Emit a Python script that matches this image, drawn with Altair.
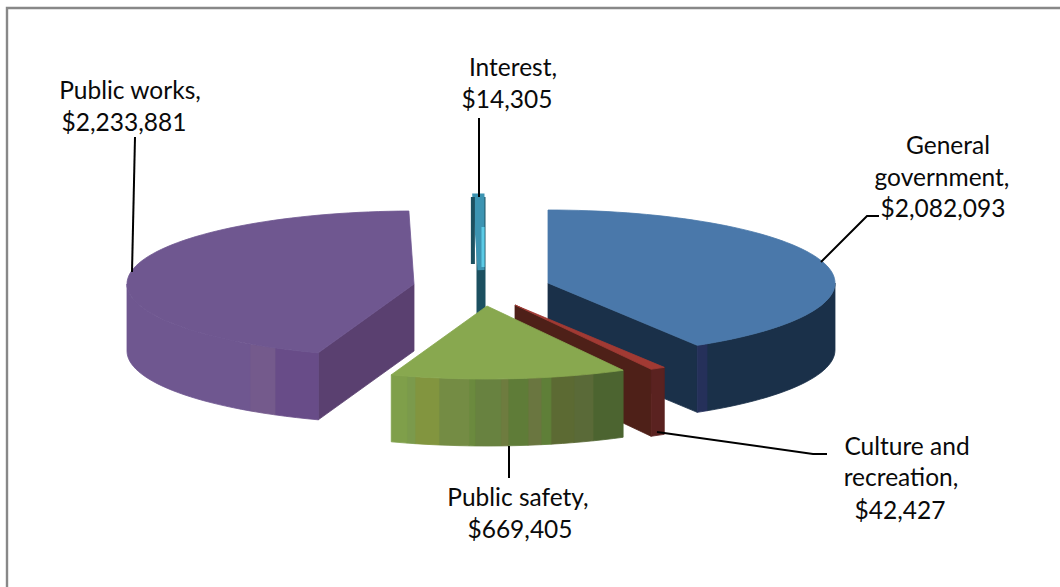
import math
import altair as alt
import pandas as pd

# Expenses by function
names = ["General government", "Culture and recreation", "Public safety", "Public works", "Interest"]
amounts = [2082093, 42427, 669405, 2233881, 14305]

# Slice placement on the canvas: exploded centre of each wedge
centres = {
    "General government": (548, 283),
    "Culture and recreation": (515, 305),
    "Public safety": (487, 306),
    "Public works": (414, 284),
    "Interest": (481, 270),
}
RX, RY, DEPTH = 287, 73, 67

top_colors = {
    "General government": "#4a78aa",
    "Culture and recreation": "#a13a33",
    "Public safety": "#88a84f",
    "Public works": "#6f5790",
    "Interest": "#3c94b2",
}
cut_colors = {
    "General government": "#1a3049",
    "Culture and recreation": "#4e2018",
    "Public works": "#5a4070",
}
# Shaded vertical bands along each rim: (right edge on the canvas, colour), right to left
rim_bands = {
    "General government": [(840, "#1a3049"), (707, "#25305a")],
    "Culture and recreation": [(670, "#5a2220")],
    "Public safety": [
        (626, "#4c6430"), (593, "#5a6a38"), (574, "#5c6a33"), (551, "#5f7f38"),
        (541, "#6a7640"), (528, "#5f7c38"), (508, "#6e7c3f"), (501, "#688240"),
        (475, "#6b8a3e"), (469, "#748c44"), (439, "#82953f"), (415, "#7b9a4c"),
        (407, "#7f9f4a"),
    ],
    "Public works": [(320, "#684c88"), (275, "#745a8c"), (250, "#6f5790")],
}

# Label lines and their centre positions
label_lines = {
    "General government": ["General", "government,"],
    "Culture and recreation": ["Culture and", "recreation,"],
    "Public safety": ["Public safety,"],
    "Public works": ["Public works,"],
    "Interest": ["Interest,"],
}
label_xy = {
    "General government": [(948, 147), (942, 179), (943, 210)],
    "Culture and recreation": [(907, 448), (901, 479), (900, 512)],
    "Public safety": [(518, 499), (520, 531)],
    "Public works": [(130, 92), (124, 124)],
    "Interest": [(513, 69), (507, 101)],
}
leaders = {
    "General government": [(821, 262), (867, 216), (879, 216)],
    "Culture and recreation": [(657, 432), (813, 454), (827, 454)],
    "Public safety": [(509, 446), (509, 478)],
    "Public works": [(135, 137), (132, 272)],
    "Interest": [(479, 118), (479, 197)],
}
frame = [(7, 587), (7, 8), (1060, 8)]

total = sum(amounts)
spans = {}
start = 0.0
for name, amount in zip(names, amounts):
    end = start + amount / total * 360
    spans[name] = (start, end)
    start = end


def rim(name, angle):
    cx, cy = centres[name]
    t = math.radians(angle)
    return cx + RX * math.sin(t), cy - RY * math.cos(t)


def arc(name, a0, a1, step=2.0):
    n = max(2, int(abs(a1 - a0) / step) + 1)
    return [rim(name, a0 + (a1 - a0) * i / (n - 1)) for i in range(n)]


def front_angle(name, x):
    # Angle on the front half of the rim that sits under canvas position x
    s = max(-1.0, min(1.0, (x - centres[name][0]) / RX))
    return 180 - math.degrees(math.asin(s))


polys = []


def add_poly(points, fill, stroke=None, width=0.8):
    pid = f"p{len(polys):03d}"
    for i, (x, y) in enumerate(points):
        polys.append(dict(poly=pid, i=i, x=x, y=y, fill=fill, stroke=stroke or fill, sw=width))


def drop(points):
    return [(x, y + DEPTH) for x, y in points]


def draw_slice(name, cut_angle=None):
    a0, a1 = spans[name]
    c = centres[name]
    if cut_angle is not None:
        edge = [c, rim(name, cut_angle)]
        add_poly(edge + drop(edge)[::-1], cut_colors[name])
    lo, hi = max(a0, 90), min(a1, 270)
    bands = rim_bands[name]
    for k, (right, colour) in enumerate(bands):
        b0 = max(lo, front_angle(name, right))
        b1 = min(hi, front_angle(name, bands[k + 1][0])) if k + 1 < len(bands) else hi
        seg = arc(name, b0, b1)
        add_poly(seg + drop(seg)[::-1], colour)
    add_poly([c] + arc(name, a0, a1), top_colors[name])


# Back-to-front paint order
draw_slice("Public works", spans["Public works"][0])

a0, a1 = spans["Interest"]
c = centres["Interest"]
left_x, left_y = rim("Interest", a0)
right_x, right_y = rim("Interest", a1)
add_poly([c, (right_x, right_y), drop([c])[0]], "#1c5060", "#1c5060", 9)
add_poly([c] + arc("Interest", a0, a1, 0.5), top_colors["Interest"], top_colors["Interest"], 7)
add_poly([(left_x - 3, left_y), (left_x - 3, c[1] - 6)], "#1c5060", "#1c5060", 4)
add_poly([(right_x + 2, right_y + 30), (right_x + 2, c[1] - 3)], "#5ccbe6", "#5ccbe6", 3)

draw_slice("General government", spans["General government"][1])
draw_slice("Culture and recreation", spans["Culture and recreation"][1])
draw_slice("Public safety")

poly_df = pd.DataFrame(polys)

label_rows = []
for name, amount in zip(names, amounts):
    texts = label_lines[name] + [f"${amount:,}"]
    for text, (x, y) in zip(texts, label_xy[name]):
        label_rows.append(dict(text=text, x=x, y=y))
label_df = pd.DataFrame(label_rows)

line_rows = []
for name in names:
    for i, (x, y) in enumerate(leaders[name]):
        line_rows.append(dict(line=name, i=i, x=x, y=y))
line_df = pd.DataFrame(line_rows)

frame_df = pd.DataFrame([dict(i=i, x=x, y=y) for i, (x, y) in enumerate(frame)])

x_enc = alt.X("x:Q", axis=None, scale=alt.Scale(domain=[0, 1060], nice=False, zero=False))
y_enc = alt.Y("y:Q", axis=None, scale=alt.Scale(domain=[587, 0], nice=False, zero=False))

border = alt.Chart(frame_df).mark_line(color="#888888", strokeWidth=2.4).encode(x_enc, y_enc, order="i:Q")

wedges = alt.Chart(poly_df).mark_line(interpolate="linear-closed").encode(
    x_enc,
    y_enc,
    detail="poly:N",
    order="i:Q",
    fill=alt.Fill("fill:N", scale=None),
    stroke=alt.Stroke("stroke:N", scale=None),
    strokeWidth=alt.StrokeWidth("sw:Q", scale=None),
)

leader_lines = alt.Chart(line_df).mark_line(color="#000000", strokeWidth=2).encode(
    x_enc, y_enc, detail="line:N", order="i:Q"
)

labels = alt.Chart(label_df).mark_text(
    font="Lato", fontSize=24.5, color="#0a0a0a", align="center", baseline="middle"
).encode(x_enc, y_enc, text="text:N")

chart = (
    alt.layer(border, wedges, leader_lines, labels)
    .properties(width=1060, height=587, padding=0, background="#ffffff",
                autosize=alt.AutoSizeParams(type="none"))
    .configure_view(stroke=None)
)

chart.save("out.html", embed_options={"renderer": "svg", "actions": False})
